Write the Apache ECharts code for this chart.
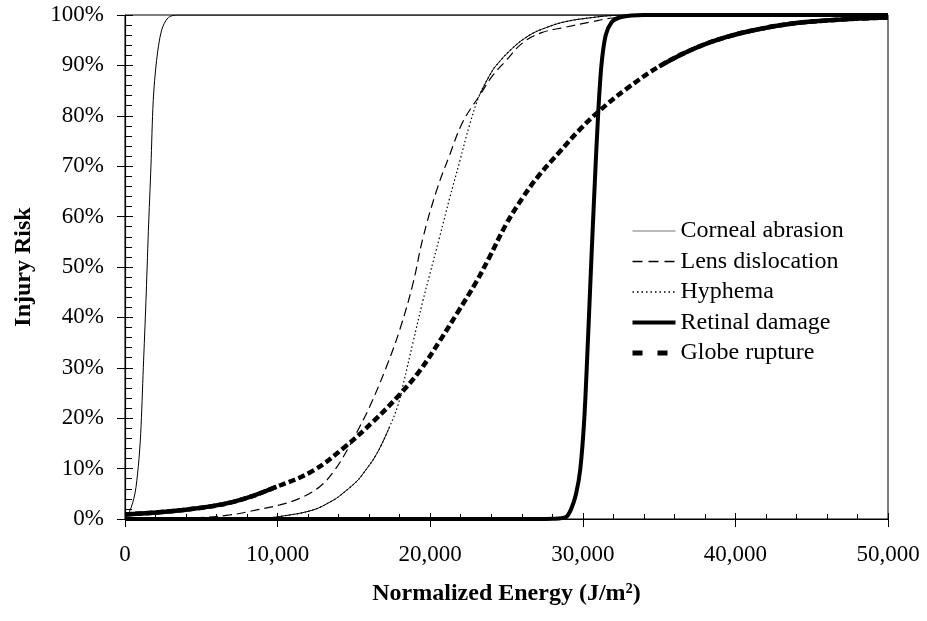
<!DOCTYPE html>
<html>
<head>
<meta charset="utf-8">
<script src="https://cdn.jsdelivr.net/npm/echarts@6/dist/echarts.min.js"></script>
<style>
html, body { margin: 0; padding: 0; background: #fff; }
#chart { width: 927px; height: 621px; }
</style>
</head>
<body>
<div id="chart"></div>
<script>
// Injury risk curves: [normalized energy (J/m^2), injury risk (%)]
const seriesNames = ['Corneal abrasion', 'Lens dislocation', 'Hyphema', 'Retinal damage', 'Globe rupture'];

const cornealAbrasion = [
  [0, 0.6], [300, 1.5], [650, 5], [870, 10.4], [1030, 17], [1200, 30], [1370, 43],
  [1530, 57], [1700, 70], [1850, 83], [2070, 91], [2400, 97], [2840, 99.5], [3470, 100], [50000, 100]
];

const lensDislocation = [
  [0, 0], [4250, 0.2], [6870, 0.8], [8620, 1.8], [10150, 2.8], [11450, 4.1], [12760, 6.4],
  [13740, 9.7], [14620, 14], [15380, 18.3], [16040, 22.3], [17130, 30.2], [18000, 37.5],
  [18870, 46.7], [19520, 55.7], [20400, 65], [21270, 72.2], [22140, 78.8], [23230, 84],
  [24100, 88], [24980, 91], [26070, 94.5], [27300, 96.5], [28900, 97.6], [30630, 98.7],
  [31940, 99.4], [33700, 99.8], [35000, 100], [50000, 100]
];

const hyphema = [
  [0, 0], [9000, 0.2], [10150, 0.5], [12330, 1.8], [13630, 3.7], [14070, 4.6], [15160, 7.4],
  [15600, 9], [16470, 12.8], [17340, 18.3], [17890, 22.6], [18220, 26.6], [18870, 35],
  [19520, 43.3], [19960, 48.4], [20620, 56], [21270, 63.6], [21930, 70.9], [22580, 78.2],
  [23230, 84.1], [23890, 88], [24330, 90], [25420, 93.5], [26510, 96], [27600, 97.5],
  [28900, 98.7], [30630, 99.5], [32000, 99.9], [34000, 100], [50000, 100]
];

const retinalDamage = [
  [0, 0], [27000, 0], [28000, 0.05], [28900, 0.4], [29240, 2], [29560, 5], [29840, 10],
  [30100, 20], [30330, 35], [30540, 50], [30760, 65], [31000, 80], [31220, 90], [31500, 96],
  [31900, 98.6], [32400, 99.5], [33200, 99.9], [34000, 100], [50000, 100]
];

const globeRupture = [
  [0, 0.9], [3820, 1.8], [7090, 3.4], [9930, 6.4], [12330, 9.6], [14400, 14.3], [16250, 19.3],
  [18000, 24.7], [19310, 29.4], [20620, 35.3], [21800, 41], [23010, 47], [23890, 52],
  [24980, 58.5], [26070, 63.8], [27160, 68.3], [28470, 72.8], [29780, 77.2], [31090, 81],
  [32840, 85.3], [35010, 89.8], [37200, 93.2], [39380, 95.6], [41560, 97.2], [43740, 98.3],
  [45930, 98.9], [48100, 99.3], [50000, 99.5]
];

// Axis ranges and tick steps
const xTicks = [0, 10000, 20000, 30000, 40000, 50000];
const yTicks = [0, 10, 20, 30, 40, 50, 60, 70, 80, 90, 100];

const FONT = '"Liberation Serif", "Times New Roman", serif';
const BLACK = '#000';

// Where the flat stretches of a line render solid, pick out those points
function keepWhere(data, test) {
  return data.map(p => test(p) ? p : [p[0], null]);
}

const gridBox = { left: 125, right: 39, top: 15, bottom: 102 };

const chart = echarts.init(document.getElementById('chart'), null, { renderer: 'canvas' });

const baseLine = {
  type: 'line', xAxisIndex: 0, yAxisIndex: 0, symbol: 'none', showSymbol: false,
  smooth: 0.4, animation: false, silent: true, clip: true,
  itemStyle: { color: BLACK }
};

const hiddenSymbol = { opacity: 0 };

const option = {
  backgroundColor: '#fff',
  animation: false,
  textStyle: { fontFamily: FONT, color: BLACK },
  grid: [
    Object.assign({ show: true, borderColor: BLACK, borderWidth: 1, backgroundColor: 'transparent' }, gridBox),
    Object.assign({ show: false }, gridBox)
  ],
  legend: {
    orient: 'vertical',
    left: 630,
    top: 218,
    padding: 0,
    itemWidth: 43,
    itemHeight: 14,
    itemGap: 4.5,
    selectedMode: false,
    textStyle: { fontFamily: FONT, fontSize: 24, color: BLACK, lineHeight: 26 },
    data: [
      { name: 'Corneal abrasion', itemStyle: hiddenSymbol, lineStyle: { color: '#777', width: 1, type: 'solid' } },
      { name: 'Lens dislocation', itemStyle: hiddenSymbol, lineStyle: { color: BLACK, width: 1.4, type: [10, 6] } },
      { name: 'Hyphema', itemStyle: hiddenSymbol, lineStyle: { color: BLACK, width: 1.3, type: [1.5, 3] } },
      { name: 'Retinal damage', itemStyle: hiddenSymbol, lineStyle: { color: BLACK, width: 4, type: 'solid' } },
      { name: 'Globe rupture', itemStyle: hiddenSymbol, lineStyle: { color: BLACK, width: 5, type: [10, 15] } }
    ]
  },
  xAxis: [
    {
      type: 'value', gridIndex: 0, min: xTicks[0], max: xTicks[xTicks.length - 1],
      interval: xTicks[1] - xTicks[0],
      name: 'Normalized Energy (J/m²)',
      nameLocation: 'middle', nameGap: 63,
      nameTextStyle: { fontFamily: FONT, fontSize: 24, fontWeight: 'bold', color: BLACK },
      axisLine: { show: true, lineStyle: { color: BLACK, width: 1 } },
      axisTick: { show: true, inside: true, length: 6, lineStyle: { color: BLACK, width: 1 } },
      minorTick: { show: true, splitNumber: 5, length: 5, lineStyle: { color: BLACK, width: 1 } },
      splitLine: { show: false },
      minorSplitLine: { show: false },
      axisLabel: {
        margin: 24, fontFamily: FONT, fontSize: 23, color: BLACK,
        formatter: v => v.toLocaleString('en-US')
      }
    },
    {
      type: 'value', gridIndex: 1, min: xTicks[0], max: xTicks[xTicks.length - 1],
      interval: xTicks[1] - xTicks[0],
      axisLine: { show: false },
      axisTick: { show: true, inside: false, length: 8, lineStyle: { color: BLACK, width: 1 } },
      axisLabel: { show: false },
      splitLine: { show: false }
    }
  ],
  yAxis: [
    {
      type: 'value', gridIndex: 0, min: yTicks[0], max: yTicks[yTicks.length - 1],
      interval: yTicks[1] - yTicks[0],
      name: 'Injury Risk',
      nameLocation: 'middle', nameGap: 89, nameRotate: 90,
      nameTextStyle: { fontFamily: FONT, fontSize: 24, fontWeight: 'bold', color: BLACK },
      axisLine: { show: true, lineStyle: { color: BLACK, width: 1.2 } },
      axisTick: { show: true, inside: true, length: 8, lineStyle: { color: BLACK, width: 1 } },
      minorTick: { show: true, splitNumber: 5, length: 7, lineStyle: { color: BLACK, width: 1 } },
      splitLine: { show: false },
      minorSplitLine: { show: false },
      axisLabel: {
        margin: 21, fontFamily: FONT, fontSize: 23, color: BLACK,
        formatter: '{value}%'
      }
    },
    {
      type: 'value', gridIndex: 1, min: yTicks[0], max: yTicks[yTicks.length - 1],
      interval: yTicks[1] - yTicks[0],
      axisLine: { show: false },
      axisTick: { show: true, inside: false, length: 8, lineStyle: { color: BLACK, width: 1 } },
      axisLabel: { show: false },
      splitLine: { show: false }
    }
  ],
  series: [
    Object.assign({}, baseLine, {
      name: seriesNames[0], data: cornealAbrasion, smooth: 0.3,
      lineStyle: { color: BLACK, width: 1, type: 'solid' }
    }),
    Object.assign({}, baseLine, {
      name: seriesNames[1], data: lensDislocation,
      lineStyle: { color: BLACK, width: 1.2, type: [9, 5], cap: 'butt' }
    }),
    Object.assign({}, baseLine, {
      name: seriesNames[2], data: hyphema,
      lineStyle: { color: BLACK, width: 1.2, type: [1.5, 2.5], cap: 'butt' }
    }),
    // the low and high stretches of the hyphema curve are drawn solid
    Object.assign({}, baseLine, {
      name: 'hyphema-tails', data: keepWhere(hyphema, p => p[1] <= 21 || p[1] >= 84),
      connectNulls: false,
      lineStyle: { color: BLACK, width: 1, type: 'solid' }
    }),
    Object.assign({}, baseLine, {
      name: seriesNames[4], data: globeRupture,
      lineStyle: { color: BLACK, width: 4.5, type: [7, 3.5], cap: 'butt' }
    }),
    // the shallow ends of the globe rupture curve render as a continuous band
    Object.assign({}, baseLine, {
      name: 'globe-tails', data: keepWhere(globeRupture, p => p[0] <= 9930 || p[0] >= 35010),
      connectNulls: false,
      lineStyle: { color: BLACK, width: 4.5, type: 'solid' }
    }),
    Object.assign({}, baseLine, {
      name: seriesNames[3], data: retinalDamage, smooth: 0.3,
      lineStyle: { color: BLACK, width: 4, type: 'solid' }
    })
  ]
};

chart.setOption(option);
</script>
</body>
</html>
